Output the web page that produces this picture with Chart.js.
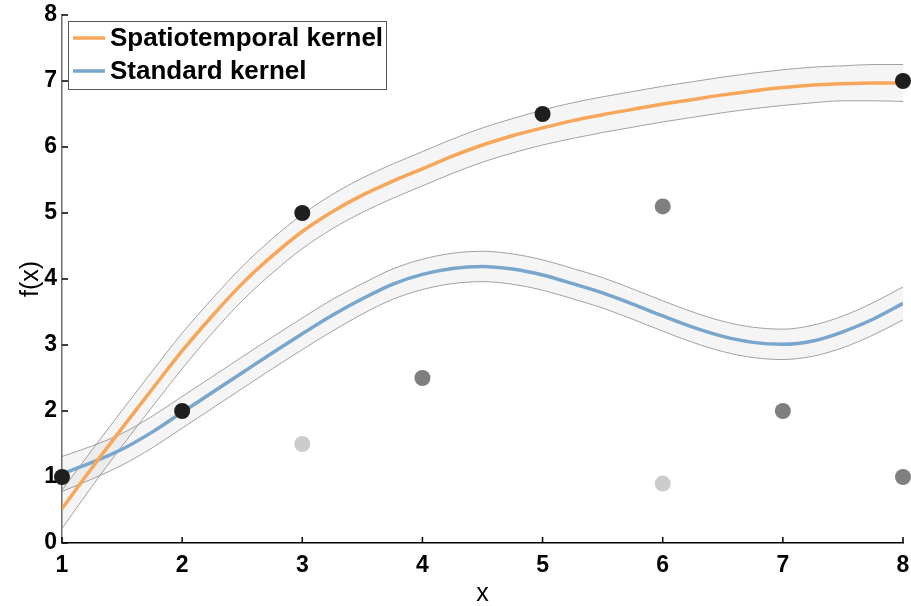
<!DOCTYPE html>
<html>
<head>
<meta charset="utf-8">
<script src="https://cdn.jsdelivr.net/npm/chart.js@4.4.1/dist/chart.umd.min.js"></script>
<style>
  html, body { margin: 0; padding: 0; background: #fff; }
  #wrap { width: 911px; height: 606px; }
</style>
</head>
<body>
<div id="wrap"><canvas id="chart"></canvas></div>
<script>
const FONT = "'Liberation Sans', Arial, Helvetica, sans-serif";

const curveX = [1, 1.25, 1.5, 1.75, 2, 2.25, 2.5, 2.75, 3, 3.25, 3.5, 3.75, 4, 4.25, 4.5,
  4.75, 5, 5.25, 5.5, 5.75, 6, 6.25, 6.5, 6.75, 7, 7.25, 7.5, 7.75, 8];

const spatioMean = [0.52, 1.14, 1.74, 2.33, 2.91, 3.44, 3.93, 4.35, 4.72, 5.02, 5.27, 5.48, 5.67, 5.86, 6.03,
  6.17, 6.29, 6.40, 6.49, 6.57, 6.65, 6.72, 6.79, 6.85, 6.90, 6.94, 6.96, 6.97, 6.97];
const spatioUpper = [0.80, 1.41, 2.01, 2.60, 3.18, 3.70, 4.19, 4.61, 4.98, 5.28, 5.53, 5.74, 5.93, 6.12, 6.29,
  6.43, 6.56, 6.67, 6.76, 6.84, 6.92, 6.99, 7.06, 7.12, 7.17, 7.21, 7.23, 7.25, 7.25];
const spatioLower = [0.22, 0.86, 1.47, 2.06, 2.64, 3.18, 3.67, 4.09, 4.46, 4.76, 5.01, 5.22, 5.41, 5.60, 5.77,
  5.91, 6.03, 6.13, 6.22, 6.30, 6.38, 6.45, 6.52, 6.58, 6.63, 6.67, 6.70, 6.70, 6.69];

const standardMean = [1.05, 1.22, 1.42, 1.68, 1.98, 2.28, 2.58, 2.88, 3.17, 3.45, 3.70, 3.92, 4.07, 4.16, 4.19,
  4.15, 4.06, 3.93, 3.79, 3.62, 3.44, 3.27, 3.13, 3.04, 3.01, 3.06, 3.20, 3.39, 3.63];
const standardUpper = [1.31, 1.47, 1.66, 1.92, 2.22, 2.52, 2.82, 3.12, 3.41, 3.69, 3.93, 4.15, 4.30, 4.39, 4.42,
  4.38, 4.29, 4.16, 4.02, 3.85, 3.67, 3.50, 3.36, 3.27, 3.24, 3.30, 3.44, 3.64, 3.88];
const standardLower = [0.78, 0.97, 1.18, 1.44, 1.74, 2.04, 2.34, 2.64, 2.93, 3.21, 3.47, 3.69, 3.84, 3.93, 3.96,
  3.92, 3.83, 3.70, 3.56, 3.39, 3.21, 3.04, 2.90, 2.81, 2.78, 2.83, 2.96, 3.15, 3.38];

const darkPtsX  = [1, 2, 3, 5, 8];
const darkPtsY  = [1, 2, 5, 6.5, 7];
const midPtsX   = [4, 6, 7, 8];
const midPtsY   = [2.5, 5.1, 2, 1];
const lightPtsX = [3, 6];
const lightPtsY = [1.5, 0.9];

const xTicks = [1, 2, 3, 4, 5, 6, 7, 8];
const yTicks = [0, 1, 2, 3, 4, 5, 6, 7, 8];

const legendItems = [
  { label: "Spatiotemporal kernel", color: "#f7a65a" },
  { label: "Standard kernel", color: "#78a6cc" },
];

function toPoints(xs, ys) {
  return xs.map((x, i) => ({ x: x, y: ys[i] }));
}

function bandEdge(ys, fill) {
  return {
    type: "line",
    data: toPoints(curveX, ys),
    borderColor: "#8a8a8a",
    borderWidth: 0.8,
    backgroundColor: "rgba(128,128,128,0.08)",
    pointRadius: 0,
    cubicInterpolationMode: "monotone",
    fill: fill,
    order: 10,
  };
}

function meanLine(ys, color) {
  return {
    type: "line",
    data: toPoints(curveX, ys),
    borderColor: color,
    borderWidth: 3.5,
    pointRadius: 0,
    cubicInterpolationMode: "monotone",
    fill: false,
    order: 5,
  };
}

function pointSet(xs, ys, color) {
  return {
    type: "scatter",
    data: toPoints(xs, ys),
    backgroundColor: color,
    borderWidth: 0,
    pointRadius: 8,
    clip: false,
    order: 1,
  };
}

// small inward tick marks on both axes
const innerTicks = {
  id: "innerTicks",
  beforeDatasetsDraw(chart) {
    const { ctx, chartArea, scales } = chart;
    ctx.save();
    ctx.strokeStyle = "#000";
    ctx.lineWidth = 1.5;
    xTicks.forEach((v) => {
      const px = scales.x.getPixelForValue(v);
      ctx.beginPath();
      ctx.moveTo(px, chartArea.bottom);
      ctx.lineTo(px, chartArea.bottom - 6);
      ctx.stroke();
    });
    yTicks.forEach((v) => {
      const py = scales.y.getPixelForValue(v);
      ctx.beginPath();
      ctx.moveTo(chartArea.left, py);
      ctx.lineTo(chartArea.left + 6, py);
      ctx.stroke();
    });
    ctx.restore();
  },
};

// boxed legend inside the top-left corner
const boxLegend = {
  id: "boxLegend",
  afterDraw(chart) {
    const { ctx, chartArea } = chart;
    const left = chartArea.left + 6;
    const top = chartArea.top + 6;
    ctx.save();
    ctx.fillStyle = "#fff";
    ctx.fillRect(left, top, 319, 68);
    ctx.strokeStyle = "#555";
    ctx.lineWidth = 1;
    ctx.strokeRect(left + 0.5, top + 0.5, 318, 68);
    ctx.font = "bold 26px " + FONT;
    ctx.textBaseline = "middle";
    ctx.fillStyle = "#000";
    legendItems.forEach((item, i) => {
      const y = top + 17 + i * 33;
      ctx.strokeStyle = item.color;
      ctx.lineWidth = 3.5;
      ctx.beginPath();
      ctx.moveTo(left + 5, y);
      ctx.lineTo(left + 37, y);
      ctx.stroke();
      ctx.fillText(item.label, left + 42, y + 1);
    });
    ctx.restore();
  },
};

new Chart(document.getElementById("chart"), {
  data: {
    datasets: [
      pointSet(darkPtsX, darkPtsY, "#1e1e1e"),
      pointSet(midPtsX, midPtsY, "#7f7f7f"),
      pointSet(lightPtsX, lightPtsY, "#cccccc"),
      meanLine(spatioMean, legendItems[0].color),
      meanLine(standardMean, legendItems[1].color),
      bandEdge(spatioUpper, false),
      bandEdge(spatioLower, "-1"),
      bandEdge(standardUpper, false),
      bandEdge(standardLower, "-1"),
    ],
  },
  options: {
    responsive: true,
    maintainAspectRatio: false,
    animation: false,
    layout: { padding: { top: 15, right: 7, left: 0, bottom: 0 } },
    plugins: {
      legend: { display: false },
      tooltip: { enabled: false },
    },
    scales: {
      x: {
        type: "linear",
        min: 1,
        max: 8,
        afterFit(scale) {
          scale.height = 63;
          scale.paddingLeft = 0;
          scale.paddingRight = 0;
        },
        afterBuildTicks(scale) { scale.ticks = xTicks.map((v) => ({ value: v })); },
        ticks: {
          color: "#000",
          padding: 9,
          font: { family: FONT, size: 23, weight: "bold" },
        },
        grid: { drawOnChartArea: false, drawTicks: false },
        border: { display: true, color: "#000", width: 1.5 },
        title: {
          display: true,
          text: "x",
          color: "#000",
          padding: { top: 0, bottom: -3 },
          font: { family: FONT, size: 25 },
        },
      },
      y: {
        type: "linear",
        min: 0,
        max: 8,
        afterFit(scale) {
          scale.width = 62;
          scale.paddingTop = 0;
          scale.paddingBottom = 0;
        },
        afterBuildTicks(scale) { scale.ticks = yTicks.map((v) => ({ value: v })); },
        ticks: {
          color: "#000",
          padding: 5,
          font: { family: FONT, size: 23, weight: "bold" },
        },
        grid: { drawOnChartArea: false, drawTicks: false },
        border: { display: true, color: "#6e6e6e", width: 1.5 },
        title: {
          display: true,
          text: "f(x)",
          color: "#000",
          padding: { top: 16, bottom: 0 },
          font: { family: FONT, size: 25 },
        },
      },
    },
  },
  plugins: [innerTicks, boxLegend],
});
</script>
</body>
</html>
